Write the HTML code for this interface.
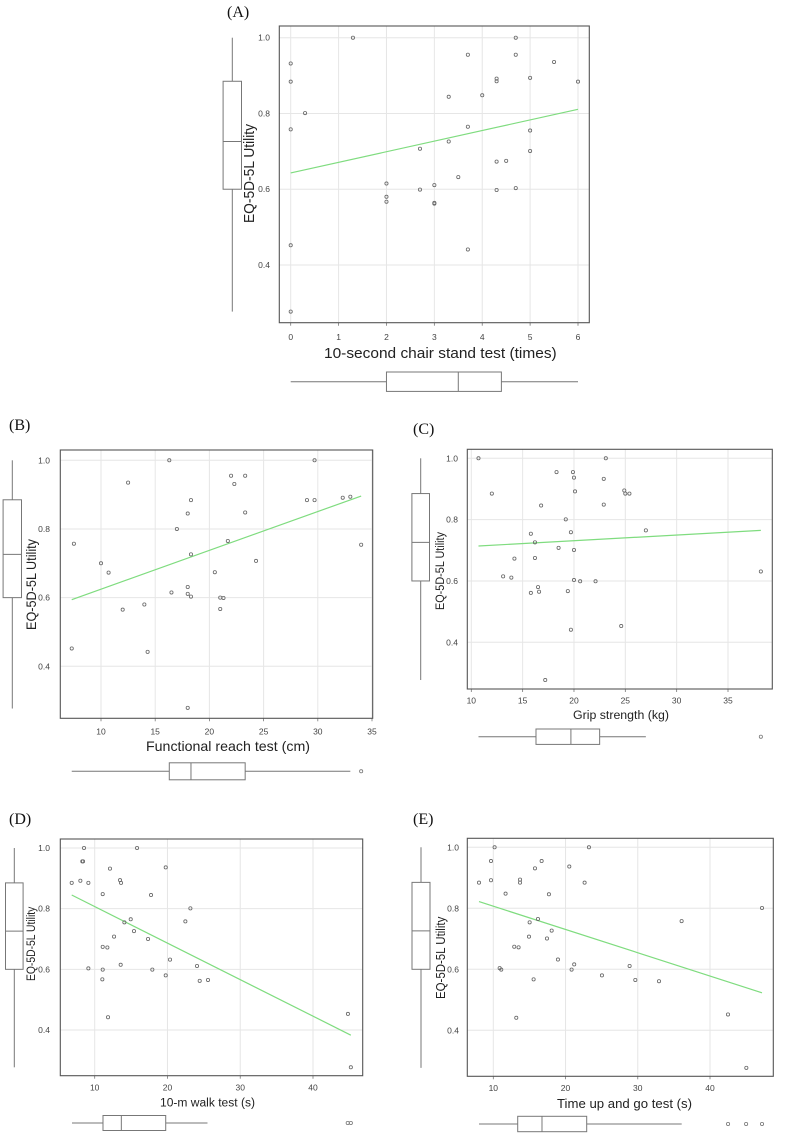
<!DOCTYPE html>
<html>
<head>
<meta charset="utf-8">
<style>
  html,body{margin:0;padding:0;background:#fff;}
  svg{display:block;}
  text{font-family:"Liberation Sans",sans-serif;}
  .plab{font-family:"Liberation Serif",serif;font-size:16px;fill:#111;}
  .tick{font-size:8.5px;fill:#444;}
  .ttl{fill:#222;}
</style>
</head>
<body>
<svg id="fig" width="787" height="1138" viewBox="0 0 787 1138" xmlns="http://www.w3.org/2000/svg">
  <text class="plab" x="227" y="17">(A)</text>
  <text class="plab" x="9" y="430">(B)</text>
  <text class="plab" x="413" y="434">(C)</text>
  <text class="plab" x="9" y="824">(D)</text>
  <text class="plab" x="413" y="824">(E)</text>
</svg>
<script>
// ---- shared Y data ----
const yTicks = [0.4, 0.6, 0.8, 1.0];
const yTickLabels = ["0.4", "0.6", "0.8", "1.0"];
const yBox = [0.277, 0.600, 0.726, 0.885, 1.0];

// ---- Panel A: chair stand ----
const aX = [0,0,0,0,0,0.3,1.3,2,2,2,2.7,2.7,3,3,3,3.3,3.3,3.5,3.7,3.7,3.7,4,4.3,4.3,4.3,4.3,4.5,4.7,4.7,4.7,5,5,5,5.5,6];
const aY = [0.932,0.884,0.758,0.452,0.277,0.801,1.0,0.615,0.580,0.567,0.707,0.599,0.611,0.564,0.562,0.844,0.726,0.632,0.955,0.765,0.441,0.848,0.892,0.885,0.673,0.598,0.675,1.0,0.955,0.603,0.894,0.755,0.701,0.936,0.884];
const aFitX = [0, 6];
const aFitY = [0.643, 0.811];
const aXTicks = [0,1,2,3,4,5,6];
const aXBox = [0, 2.0, 3.5, 4.4, 6];
const aXOut = [];

// ---- Panel B: functional reach ----
const bX = [7.3,7.5,10,10.7,12,12.5,14,14.3,16.3,16.5,17,18,18,18,18,18.3,18.3,18.3,20.5,21,21,21.3,21.7,22,22.3,23.3,23.3,24.3,29,29.7,29.7,32.3,33,34];
const bY = [0.452,0.757,0.700,0.673,0.565,0.935,0.580,0.442,1.0,0.615,0.800,0.845,0.631,0.611,0.279,0.884,0.726,0.603,0.674,0.600,0.567,0.599,0.765,0.955,0.931,0.955,0.848,0.707,0.884,1.0,0.884,0.891,0.894,0.754];
const bFitX = [7.3, 34];
const bFitY = [0.594, 0.896];
const bXTicks = [10,15,20,25,30,35];
const bXBox = [7.3, 16.3, 18.3, 23.3, 33.0];
const bXOut = [34];

// ---- Panel C: grip strength ----
const cX = [10.7,12.0,13.1,13.9,14.2,15.8,15.8,16.2,16.2,16.5,16.6,16.8,17.2,18.3,18.5,19.2,19.4,19.7,19.7,19.9,20,20,20,20.1,20.6,22.1,22.9,22.9,23.1,24.6,24.9,25.0,25.4,27.0,38.2];
const cY = [1.0,0.885,0.615,0.611,0.673,0.754,0.561,0.726,0.675,0.580,0.565,0.846,0.277,0.955,0.708,0.801,0.567,0.759,0.441,0.955,0.937,0.701,0.603,0.892,0.599,0.599,0.933,0.849,1.0,0.453,0.895,0.885,0.885,0.765,0.631];
const cFitX = [10.7, 38.2];
const cFitY = [0.714, 0.765];
const cXTicks = [10,15,20,25,30,35];
const cXBox = [10.7, 16.3, 19.7, 22.5, 27.0];
const cXOut = [38.2];

// ---- Panel D: 10-m walk ----
const dX = [6.84,8.03,8.3,8.4,8.53,9.13,9.13,11.1,11.1,11.1,11.05,11.74,11.83,12.1,12.66,13.48,13.62,13.57,14.08,14.95,15.4,15.82,17.33,17.74,17.92,19.76,19.76,20.35,22.46,23.15,24.06,24.43,25.57,44.8,45.2];
const dY = [0.885,0.892,0.956,0.956,1.0,0.885,0.603,0.848,0.674,0.599,0.567,0.672,0.442,0.932,0.708,0.894,0.885,0.615,0.755,0.765,0.726,1.0,0.700,0.845,0.599,0.936,0.580,0.632,0.758,0.801,0.611,0.562,0.565,0.453,0.277];
const dFitX = [6.84, 45.2];
const dFitY = [0.845, 0.383];
const dXTicks = [10,20,30,40];
const dXBox = [6.88, 11.14, 13.66, 19.76, 25.5];
const dXOut = [44.77, 45.2];

// ---- Panel E: timed up and go ----
const eX = [8.02,9.68,9.68,10.18,10.88,11.1,11.7,12.9,13.18,13.5,13.7,13.7,15.03,14.94,15.58,15.77,16.18,16.69,17.43,17.7,18.08,18.95,20.52,20.84,21.2,22.64,23.24,25.04,28.87,29.66,32.94,36.07,42.49,45.03,47.2];
const eY = [0.884,0.955,0.892,1.0,0.604,0.599,0.848,0.674,0.441,0.672,0.894,0.884,0.754,0.707,0.567,0.931,0.765,0.955,0.701,0.846,0.727,0.632,0.937,0.599,0.616,0.884,1.0,0.580,0.611,0.565,0.561,0.758,0.452,0.277,0.801];
const eFitX = [8.02, 47.2];
const eFitY = [0.822, 0.523];
const eXTicks = [10,20,30,40];
const eXBox = [8.02, 13.38, 16.74, 22.93, 36.08];
const eXOut = [42.5, 45.0, 47.2];

const NS = "http://www.w3.org/2000/svg";
const svg = document.getElementById("fig");
function mk(tag, attrs, parent) {
  const el = document.createElementNS(NS, tag);
  for (const k in attrs) el.setAttribute(k, attrs[k]);
  (parent || svg).appendChild(el);
  return el;
}
function linScale(v0, p0, v1, p1) { return v => p0 + (v - v0) * (p1 - p0) / (v1 - v0); }

const panels = [
  {id:"a", xs:aX, ys:aY, fx:aFitX, fy:aFitY, xt:aXTicks, xb:aXBox, xo:aXOut,
   sx:[0,290.7,6,578], sy:[1.0,37.7,0.4,265], box:[279.3,26,589.3,322.7],
   ylabX:270, xlabY:340, lbx:[232.3,9.2], bby:[381.7,9.7],
   xt_t:"10-second chair stand test (times)", xtt:[324,556.7,358,15],
   yt:[124,223,254,15]},
  {id:"b", xs:bX, ys:bY, fx:bFitX, fy:bFitY, xt:bXTicks, xb:bXBox, xo:bXOut,
   sx:[10,101,35,372], sy:[1.0,460.3,0.4,666.3], box:[60.3,450,372.7,718.3],
   ylabX:50, xlabY:734.5, lbx:[12.3,9.2], bby:[771.3,8.5],
   xt_t:"Functional reach test (cm)", xtt:[146,310,751,14],
   yt:[539,630,36,14]},
  {id:"c", xs:cX, ys:cY, fx:cFitX, fy:cFitY, xt:cXTicks, xb:cXBox, xo:cXOut,
   sx:[10,471.3,35,728], sy:[1.0,458.3,0.4,642.3], box:[467.3,449.3,772.3,689],
   ylabX:458, xlabY:703.5, lbx:[420.7,8.8], bby:[736.7,7.7],
   xt_t:"Grip strength (kg)", xtt:[573,669,719,11.5],
   yt:[532,610,444,11.5]},
  {id:"d", xs:dX, ys:dY, fx:dFitX, fy:dFitY, xt:dXTicks, xb:dXBox, xo:dXOut,
   sx:[10,94.7,40,313], sy:[1.0,848,0.4,1030], box:[60.3,839,362.7,1075.7],
   ylabX:50, xlabY:1090.5, lbx:[14.3,8.8], bby:[1123,7.5],
   xt_t:"10-m walk test (s)", xtt:[160,255,1106.5,11.5],
   yt:[906.7,981,35,11.5]},
  {id:"e", xs:eX, ys:eY, fx:eFitX, fy:eFitY, xt:eXTicks, xb:eXBox, xo:eXOut,
   sx:[10,493.3,40,710], sy:[1.0,847.3,0.4,1030.3], box:[467.3,838.3,773.3,1076.3],
   ylabX:459, xlabY:1091, lbx:[421,9], bby:[1124,7.7],
   xt_t:"Time up and go test (s)", xtt:[557,692,1108,13],
   yt:[916.7,999,445,13]}
];

panels.forEach(p => {
  const X = linScale(p.sx[0], p.sx[1], p.sx[2], p.sx[3]);
  const Y = linScale(p.sy[0], p.sy[1], p.sy[2], p.sy[3]);
  const g = mk("g", {});
  
  
  const [bx0, by0, bx1, by1] = p.box;

  // gridlines
  yTicks.forEach((t, i) => {
    const l = mk("line", {x1:bx0, x2:bx1, y1:Y(t), y2:Y(t), stroke:"#e6e6e6", "stroke-width":1}, g);
    
    
    const tx = mk("text", {x:p.ylabX, y:Y(t) + 3, "text-anchor":"end", class:"tick"}, g);
    tx.textContent = yTickLabels[i];
    
    
  });
  p.xt.forEach(t => {
    const l = mk("line", {x1:X(t), x2:X(t), y1:by0, y2:by1, stroke:"#e6e6e6", "stroke-width":1}, g);
    
    
    const tk = mk("line", {x1:X(t), x2:X(t), y1:by1, y2:by1 + 3, stroke:"#777", "stroke-width":0.8}, g);
    
    
    const tx = mk("text", {x:X(t), y:p.xlabY, "text-anchor":"middle", class:"tick"}, g);
    tx.textContent = String(t);
    
    
  });

  // plot frame
  const fr = mk("rect", {x:bx0, y:by0, width:bx1 - bx0, height:by1 - by0, fill:"none", stroke:"#555", "stroke-width":1.1}, g);
  
  

  // fit line
  const fl = mk("line", {x1:X(p.fx[0]), y1:Y(p.fy[0]), x2:X(p.fx[1]), y2:Y(p.fy[1]), stroke:"#7fdc7f", "stroke-width":1.2}, g);
  
  

  // points
  p.xs.forEach((v, i) => {
    const c = mk("circle", {cx:X(v), cy:Y(p.ys[i]), r:1.6, fill:"none", stroke:"#666", "stroke-width":0.8}, g);
    
    
  });

  // left boxplot (y distribution)
  const [cx, hw] = p.lbx;
  const lg = mk("g", {stroke:"#777", "stroke-width":1, fill:"none"}, g);
  
  
  mk("line", {x1:cx, x2:cx, y1:Y(yBox[4]), y2:Y(yBox[3])}, lg);
  mk("line", {x1:cx, x2:cx, y1:Y(yBox[1]), y2:Y(yBox[0])}, lg);
  mk("rect", {x:cx - hw, y:Y(yBox[3]), width:2 * hw, height:Y(yBox[1]) - Y(yBox[3]), fill:"#fff"}, lg);
  mk("line", {x1:cx - hw, x2:cx + hw, y1:Y(yBox[2]), y2:Y(yBox[2])}, lg);

  // bottom boxplot (x distribution)
  const [cy, hh] = p.bby;
  const bg = mk("g", {stroke:"#777", "stroke-width":1, fill:"none"}, g);
  
  
  mk("line", {x1:X(p.xb[0]), x2:X(p.xb[1]), y1:cy, y2:cy}, bg);
  mk("line", {x1:X(p.xb[3]), x2:X(p.xb[4]), y1:cy, y2:cy}, bg);
  mk("rect", {x:X(p.xb[1]), y:cy - hh, width:X(p.xb[3]) - X(p.xb[1]), height:2 * hh, fill:"#fff"}, bg);
  mk("line", {x1:X(p.xb[2]), x2:X(p.xb[2]), y1:cy - hh, y2:cy + hh}, bg);
  p.xo.forEach(v => {
    const o = mk("circle", {cx:X(v), cy:cy, r:1.6, "stroke-width":0.8}, bg);
    
    
  });

  // titles
  const [tx0, tx1, tby, tfs] = p.xtt;
  const xtl = mk("text", {x:tx0, y:tby, class:"ttl", "font-size":tfs, textLength:tx1 - tx0, lengthAdjust:"spacingAndGlyphs"}, g);
  xtl.textContent = p.xt_t;
  
  
  const [yt0, yt1, ybx, yfs] = p.yt;
  const ytl = mk("text", {x:0, y:0, class:"ttl", "font-size":yfs, textLength:yt1 - yt0, lengthAdjust:"spacingAndGlyphs",
    transform:"translate(" + ybx + "," + yt1 + ") rotate(-90)"}, g);
  ytl.textContent = "EQ-5D-5L Utility";
  
  
});
</script>
</body>
</html>
